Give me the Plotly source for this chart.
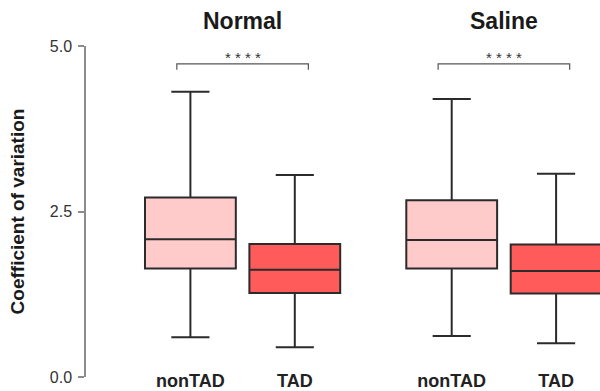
import plotly.graph_objects as go

# ---- data ----
panels = ["Normal", "Saline"]
categories = ["nonTAD", "TAD"]
lower_whisker = {"Normal": [0.60, 0.45], "Saline": [0.62, 0.51]}
q1_vals       = {"Normal": [1.64, 1.27], "Saline": [1.64, 1.26]}
median_vals   = {"Normal": [2.08, 1.62], "Saline": [2.07, 1.60]}
q3_vals       = {"Normal": [2.71, 2.01], "Saline": [2.67, 2.00]}
upper_whisker = {"Normal": [4.31, 3.05], "Saline": [4.20, 3.07]}
sig_labels    = {"Normal": "* * * *", "Saline": "* * * *"}
bracket_y = 4.73
bracket_tick_y = 4.64
star_y = 4.67
y_ticks = [0.0, 2.5, 5.0]
y_ticktext = ["0.0", "2.5", "5.0"]

# ---- style ----
fills = ["#ffcaca", "#ff5b5b"]
line_col = "#2b2b2b"
axis_col = "#8c8c8c"
FONT = "Liberation Sans, Arial, sans-serif"

W, H = 600, 391
ml, mr, mt, mb = 86, 0, 46, 11
pw = W - ml - mr
ppu = 104.4  # px per category unit
ranges = [[-1.0, 1.6], [-0.6, 1.42]]
x_left_px = [86, 451.7 - 0.6 * ppu]
domains = []
for r, lp in zip(ranges, x_left_px):
    wpx = (r[1] - r[0]) * ppu
    d0 = (lp - ml) / pw
    d1 = min(1.0, d0 + wpx / pw)
    domains.append([d0, d1])

fig = go.Figure()
for pi, panel in enumerate(panels):
    xa = "x" if pi == 0 else "x2"
    for ci, cat in enumerate(categories):
        fig.add_trace(go.Box(
            x=[ci],
            q1=[q1_vals[panel][ci]],
            median=[median_vals[panel][ci]],
            q3=[q3_vals[panel][ci]],
            lowerfence=[lower_whisker[panel][ci]],
            upperfence=[upper_whisker[panel][ci]],
            width=0.87,
            whiskerwidth=0.42,
            fillcolor=fills[ci],
            line=dict(color=line_col, width=2),
            boxpoints=False,
            hoverinfo="skip",
            showlegend=False,
            xaxis=xa, yaxis="y",
        ))
    # significance bracket
    off = 0.13
    fig.add_trace(go.Scatter(
        x=[0 - off, 0 - off, 1 + off, 1 + off],
        y=[bracket_tick_y, bracket_y, bracket_y, bracket_tick_y],
        mode="lines",
        line=dict(color="#555555", width=1.2),
        hoverinfo="skip", showlegend=False,
        xaxis=xa, yaxis="y",
    ))
    fig.add_annotation(
        x=0.5, y=star_y, xref=xa, yref="y", text=sig_labels[panel],
        showarrow=False, yanchor="bottom",
        font=dict(family=FONT, size=15, color="#333333"),
    )
    fig.add_annotation(
        x=0.5, y=1.075, xref=xa, yref="paper", text="<b>%s</b>" % panel,
        showarrow=False, yanchor="middle",
        font=dict(family=FONT, size=23, color="#1a1a1a"),
    )

xaxis_common = dict(
    tickmode="array", tickvals=[0, 1], ticktext=["<b>%s</b>" % c for c in categories],
    showline=False, showgrid=False, zeroline=False, ticks="",
    tickfont=dict(family=FONT, size=18, color="#222222"),
    ticklabelstandoff=-9,
)
fig.update_layout(
    width=W, height=H,
    margin=dict(l=ml, r=mr, t=mt, b=mb),
    paper_bgcolor="white", plot_bgcolor="white",
    xaxis=dict(domain=domains[0], range=ranges[0], **xaxis_common),
    xaxis2=dict(domain=domains[1], range=ranges[1], anchor="y", **xaxis_common),
    yaxis=dict(
        range=[0, 5], tickvals=y_ticks, ticktext=y_ticktext,
        showline=True, linecolor=axis_col, linewidth=1.5,
        ticks="outside", ticklen=6, tickcolor=axis_col, tickwidth=1.5,
        showgrid=False, zeroline=False, ticklabelstandoff=3,
        tickfont=dict(family=FONT, size=16, color="#333333"),
        title=dict(text="<b>Coefficient of variation</b>", standoff=20,
                   font=dict(family=FONT, size=19, color="#1a1a1a")),
    ),
    font=dict(family=FONT),
)
fig.write_html("out.html")
